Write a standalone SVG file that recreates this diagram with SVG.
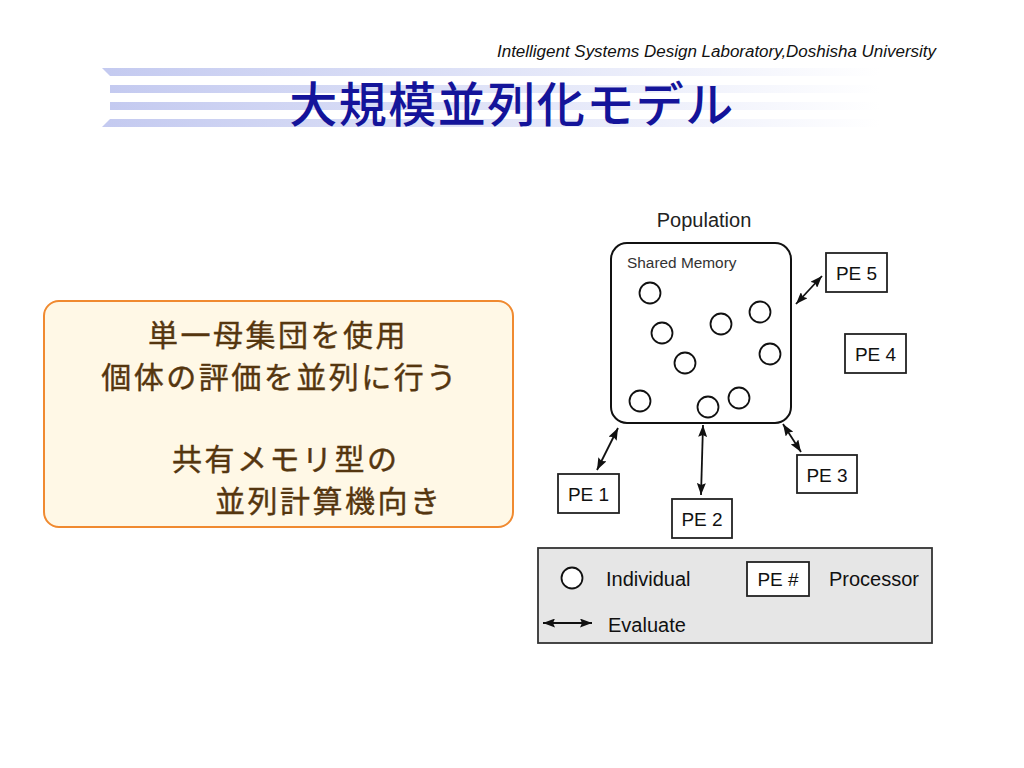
<svg xmlns="http://www.w3.org/2000/svg" width="1024" height="768" viewBox="0 0 1024 768">
<defs>
<linearGradient id="stripe" x1="0" y1="0" x2="1" y2="0">
<stop offset="0" stop-color="#c4caf0"/>
<stop offset="0.45" stop-color="#dde1f7"/>
<stop offset="1" stop-color="#ffffff"/>
</linearGradient>
<marker id="ah" viewBox="0 0 12 9" refX="12" refY="4.5" markerWidth="12" markerHeight="9" markerUnits="userSpaceOnUse" orient="auto-start-reverse">
<path d="M0,0 L12,4.5 L0,9 L2,4.5 Z" fill="#111"/>
</marker>
</defs>
<style>
.cj{font-family:"Noto Sans CJK JP","Noto Sans CJK SC",sans-serif}
.sans{font-family:"Liberation Sans",Arial,sans-serif}
.pe{fill:#fff;stroke:#222;stroke-width:1.8}
.pet{font-family:"Liberation Sans",Arial,sans-serif;font-size:19px;fill:#111;text-anchor:middle}
.ind{fill:#fff;stroke:#111;stroke-width:1.8}
.conn{stroke:#111;stroke-width:1.8;fill:none;marker-start:url(#ah);marker-end:url(#ah)}
.body{font-size:30px;fill:#55360f;letter-spacing:2.5px;stroke:#55360f;stroke-width:0.4}
.leg{font-family:"Liberation Sans",Arial,sans-serif;font-size:20px;fill:#111}
</style>
<rect width="1024" height="768" fill="#fff"/>
<g id="header">
<text x="497" y="57" class="sans" font-size="16" font-style="italic" fill="#111" textLength="439" lengthAdjust="spacingAndGlyphs">Intelligent Systems Design Laboratory,Doshisha University</text>
<polygon points="102,68 880,68 880,76 110,76" fill="url(#stripe)"/>
<rect x="110" y="85" width="770" height="8" fill="url(#stripe)"/>
<rect x="110" y="102" width="770" height="8" fill="url(#stripe)"/>
<polygon points="110,119 880,119 880,127 102,127" fill="url(#stripe)"/>
<text x="512" y="122" class="cj" font-size="48" font-weight="500" fill="#14149a" text-anchor="middle" letter-spacing="1.5">大規模並列化モデル</text>
</g>
<g id="summary">
<rect x="44" y="301" width="469" height="226" rx="15" fill="#fff8e6" stroke="#f08a30" stroke-width="2"/>
<text class="cj body" x="278" y="346" text-anchor="middle">単一母集団を使用</text>
<text class="cj body" x="280" y="388" text-anchor="middle">個体の評価を並列に行う</text>
<text class="cj body" x="172" y="470">共有メモリ型の</text>
<text class="cj body" x="215" y="512">並列計算機向き</text>
</g>
<g id="population">
<text x="704" y="227" class="sans" font-size="20" fill="#222" text-anchor="middle">Population</text>
<rect x="611" y="243" width="180" height="180" rx="16" fill="#fff" stroke="#111" stroke-width="2"/>
<text x="627" y="268" class="sans" font-size="15.4" fill="#333">Shared Memory</text>
<circle class="ind" cx="650" cy="293" r="10.5"/>
<circle class="ind" cx="662" cy="333" r="10.5"/>
<circle class="ind" cx="721" cy="324" r="10.5"/>
<circle class="ind" cx="760" cy="312" r="10.5"/>
<circle class="ind" cx="685" cy="363" r="10.5"/>
<circle class="ind" cx="770" cy="354" r="10.5"/>
<circle class="ind" cx="640" cy="401" r="10.5"/>
<circle class="ind" cx="708" cy="407" r="10.5"/>
<circle class="ind" cx="739" cy="398" r="10.5"/>
</g>
<g id="pe1"><rect class="pe" x="558" y="474" width="61" height="39"/><text class="pet" x="588.5" y="501">PE 1</text></g>
<g id="pe2"><rect class="pe" x="672" y="499" width="60" height="39"/><text class="pet" x="702" y="526">PE 2</text></g>
<g id="pe3"><rect class="pe" x="797" y="455" width="60" height="38"/><text class="pet" x="827" y="482">PE 3</text></g>
<g id="pe4"><rect class="pe" x="845" y="334" width="61" height="39"/><text class="pet" x="875.5" y="361">PE 4</text></g>
<g id="pe5"><rect class="pe" x="826" y="253" width="61" height="39"/><text class="pet" x="856.5" y="280">PE 5</text></g>
<g id="connectors">
<line class="conn" x1="618" y1="428" x2="597" y2="470"/>
<line class="conn" x1="703" y1="425" x2="701" y2="495"/>
<line class="conn" x1="783" y1="424" x2="801" y2="452"/>
<line class="conn" x1="796" y1="304" x2="822" y2="276"/>
</g>
<g id="legend">
<rect x="538" y="548" width="394" height="95" fill="#e6e6e6" stroke="#333" stroke-width="1.8"/>
<circle class="ind" cx="572" cy="578" r="10.5"/>
<text x="606" y="586" class="leg">Individual</text>
<rect class="pe" x="747" y="562" width="62" height="34"/>
<text class="pet" x="778" y="586">PE #</text>
<text x="829" y="586" class="leg">Processor</text>
<line class="conn" x1="543" y1="623" x2="592" y2="623"/>
<text x="608" y="632" class="leg">Evaluate</text>
</g>
</svg>
